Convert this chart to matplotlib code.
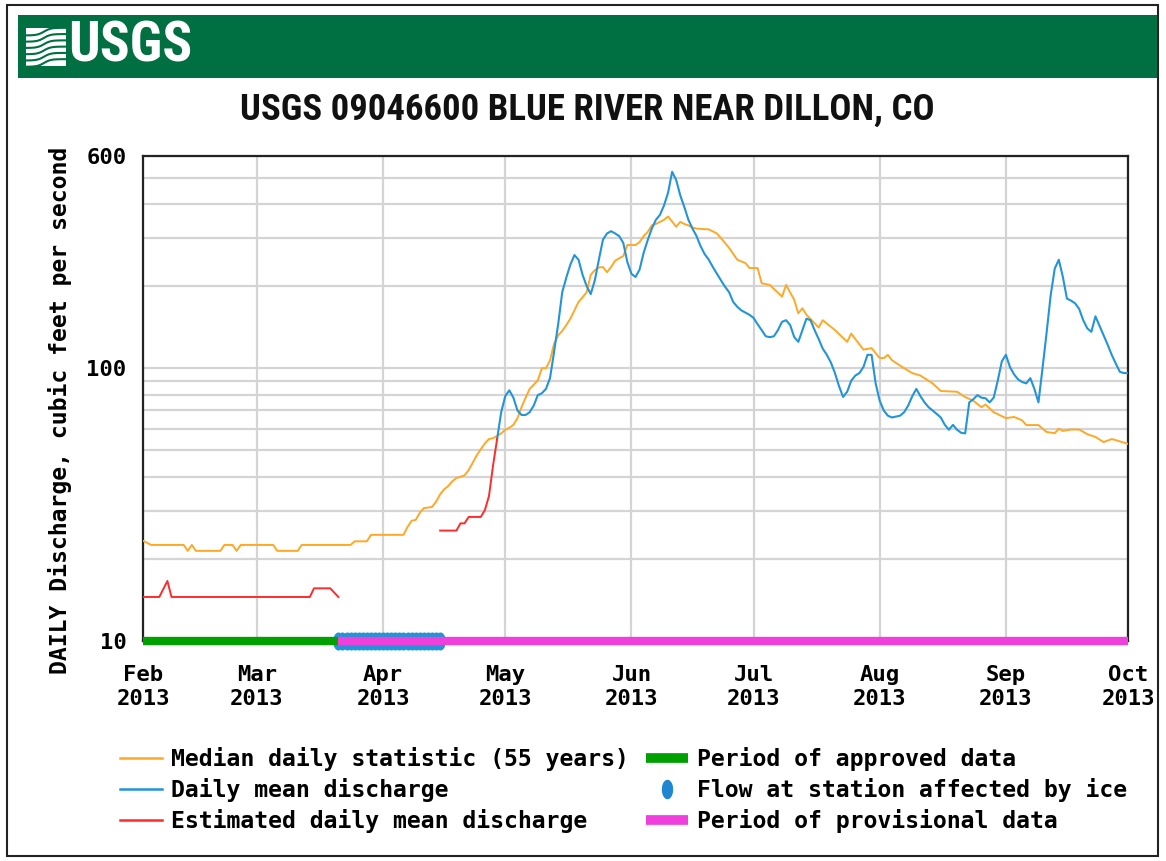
import matplotlib
matplotlib.use("Agg")
import matplotlib.pyplot as plt
from matplotlib.lines import Line2D
from matplotlib.patches import Rectangle
from matplotlib.path import Path
from matplotlib import font_manager
import numpy as np
import pandas as pd

# ---- data (cfs) ----
median_dates = [
    "2013-02-01", "2013-02-03", "2013-02-11", "2013-02-12", "2013-02-13", "2013-02-14",
    "2013-02-20", "2013-02-21", "2013-02-23", "2013-02-24", "2013-02-25", "2013-03-05",
    "2013-03-06", "2013-03-11", "2013-03-12", "2013-03-24", "2013-03-25", "2013-03-28",
    "2013-03-29", "2013-04-06", "2013-04-07", "2013-04-08", "2013-04-09", "2013-04-10",
    "2013-04-11", "2013-04-13", "2013-04-14", "2013-04-15", "2013-04-16", "2013-04-17",
    "2013-04-18", "2013-04-19", "2013-04-20", "2013-04-21", "2013-04-22", "2013-04-23",
    "2013-04-24", "2013-04-25", "2013-04-26", "2013-04-27", "2013-04-28", "2013-04-29",
    "2013-04-30", "2013-05-01", "2013-05-02", "2013-05-03", "2013-05-04", "2013-05-05",
    "2013-05-06", "2013-05-07", "2013-05-08", "2013-05-09", "2013-05-10", "2013-05-11",
    "2013-05-12", "2013-05-13", "2013-05-14", "2013-05-15", "2013-05-16", "2013-05-17",
    "2013-05-18", "2013-05-19", "2013-05-20", "2013-05-21", "2013-05-22", "2013-05-23",
    "2013-05-24", "2013-05-25", "2013-05-26", "2013-05-27", "2013-05-28", "2013-05-29",
    "2013-05-30", "2013-05-31", "2013-06-02", "2013-06-03", "2013-06-04", "2013-06-05",
    "2013-06-06", "2013-06-07", "2013-06-08", "2013-06-09", "2013-06-10", "2013-06-11",
    "2013-06-12", "2013-06-13", "2013-06-14", "2013-06-15", "2013-06-16", "2013-06-17",
    "2013-06-20", "2013-06-22", "2013-06-24", "2013-06-25", "2013-06-27", "2013-06-29",
    "2013-06-30", "2013-07-02", "2013-07-03", "2013-07-05", "2013-07-08", "2013-07-09",
    "2013-07-11", "2013-07-12", "2013-07-13", "2013-07-14", "2013-07-17", "2013-07-18",
    "2013-07-21", "2013-07-24", "2013-07-25", "2013-07-28", "2013-07-30", "2013-08-01",
    "2013-08-02", "2013-08-03", "2013-08-04", "2013-08-07", "2013-08-09", "2013-08-11",
    "2013-08-14", "2013-08-16", "2013-08-20", "2013-08-22", "2013-08-24", "2013-08-26",
    "2013-08-27", "2013-08-29", "2013-09-01", "2013-09-03", "2013-09-05", "2013-09-06",
    "2013-09-09", "2013-09-11", "2013-09-13", "2013-09-14", "2013-09-15", "2013-09-17",
    "2013-09-19", "2013-09-21", "2013-09-23", "2013-09-25", "2013-09-27", "2013-09-28",
    "2013-10-01",
]
median_cfs = [
    23.3, 22.5, 22.5, 21.4, 22.5, 21.4,
    21.4, 22.5, 22.5, 21.4, 22.5, 22.5,
    21.4, 21.4, 22.5, 22.5, 23.2, 23.2,
    24.5, 24.5, 26.2, 27.6, 27.8, 29.5,
    30.7, 31.0, 32.4, 34.5, 36.0, 37.0,
    38.5, 39.6, 40.0, 40.5, 42.3, 45.0,
    48.0, 50.5, 53.0, 55.0, 55.4, 56.5,
    57.7, 59.5, 60.5, 62.0, 65.6, 72.0,
    78.0, 84.0, 87.0, 90.4, 100, 100,
    107, 123, 132, 137, 144, 152,
    163, 175, 182, 190, 220, 229,
    234, 235, 225, 235, 248, 253,
    258, 283, 283, 290, 305, 316,
    334, 338, 344, 350, 360, 345,
    330, 344, 338, 334, 328, 325,
    323, 312, 288, 276, 250, 243,
    233, 233, 205, 202, 183, 202,
    178, 159, 166, 157, 141, 150,
    138, 125, 134, 117, 118.5, 109,
    109, 112, 107, 100, 96, 94,
    88, 82.5, 82, 78.4, 76, 72,
    73.6, 69, 65.6, 66.3, 64.4, 61.9,
    61.9, 58.4, 57.8, 60, 58.9, 59.6,
    59.6, 57.3, 56, 53.6, 55, 54.5,
    52.8,
]

mean_dates = [
    "2013-04-29", "2013-04-30", "2013-05-01", "2013-05-02", "2013-05-03", "2013-05-04",
    "2013-05-05", "2013-05-06", "2013-05-07", "2013-05-08", "2013-05-09", "2013-05-10",
    "2013-05-11", "2013-05-12", "2013-05-13", "2013-05-14", "2013-05-15", "2013-05-16",
    "2013-05-17", "2013-05-18", "2013-05-19", "2013-05-20", "2013-05-21", "2013-05-22",
    "2013-05-23", "2013-05-24", "2013-05-25", "2013-05-26", "2013-05-27", "2013-05-28",
    "2013-05-29", "2013-05-30", "2013-05-31", "2013-06-01", "2013-06-02", "2013-06-03",
    "2013-06-04", "2013-06-05", "2013-06-06", "2013-06-07", "2013-06-08", "2013-06-09",
    "2013-06-10", "2013-06-11", "2013-06-12", "2013-06-13", "2013-06-14", "2013-06-15",
    "2013-06-16", "2013-06-17", "2013-06-18", "2013-06-19", "2013-06-20", "2013-06-21",
    "2013-06-22", "2013-06-23", "2013-06-24", "2013-06-25", "2013-06-26", "2013-06-27",
    "2013-06-28", "2013-06-29", "2013-06-30", "2013-07-01", "2013-07-02", "2013-07-03",
    "2013-07-04", "2013-07-05", "2013-07-06", "2013-07-07", "2013-07-08", "2013-07-09",
    "2013-07-10", "2013-07-11", "2013-07-12", "2013-07-13", "2013-07-14", "2013-07-15",
    "2013-07-16", "2013-07-17", "2013-07-18", "2013-07-19", "2013-07-20", "2013-07-21",
    "2013-07-22", "2013-07-23", "2013-07-24", "2013-07-25", "2013-07-26", "2013-07-27",
    "2013-07-28", "2013-07-29", "2013-07-30", "2013-07-31", "2013-08-01", "2013-08-02",
    "2013-08-03", "2013-08-04", "2013-08-05", "2013-08-06", "2013-08-07", "2013-08-08",
    "2013-08-09", "2013-08-10", "2013-08-11", "2013-08-12", "2013-08-13", "2013-08-14",
    "2013-08-15", "2013-08-16", "2013-08-17", "2013-08-18", "2013-08-19", "2013-08-20",
    "2013-08-21", "2013-08-22", "2013-08-23", "2013-08-24", "2013-08-25", "2013-08-26",
    "2013-08-27", "2013-08-28", "2013-08-29", "2013-08-30", "2013-08-31", "2013-09-01",
    "2013-09-02", "2013-09-03", "2013-09-04", "2013-09-05", "2013-09-06", "2013-09-07",
    "2013-09-08", "2013-09-09", "2013-09-10", "2013-09-11", "2013-09-12", "2013-09-13",
    "2013-09-14", "2013-09-15", "2013-09-16", "2013-09-17", "2013-09-18", "2013-09-19",
    "2013-09-20", "2013-09-21", "2013-09-22", "2013-09-23", "2013-09-24", "2013-09-25",
    "2013-09-26", "2013-09-27", "2013-09-28", "2013-09-29", "2013-09-30", "2013-10-01",
]
mean_cfs = [
    55, 69, 79, 83, 78, 70,
    67.4, 67.4, 69, 73, 79.7, 81,
    84, 92, 115, 145, 190, 215,
    240, 260, 250, 220, 200, 187,
    210, 250, 296, 312, 318, 312,
    305, 288, 245, 222, 216, 230,
    265, 295, 325, 350, 365, 395,
    440, 525, 490, 430, 390, 350,
    325, 305, 280, 262, 250, 235,
    222, 210, 199, 190, 175, 168,
    163, 160, 157, 153, 145, 138,
    131, 130, 131, 138, 148, 150,
    144, 130, 125, 138, 152, 150,
    138, 128, 118, 112, 105, 96,
    86, 78.5, 82, 90, 94, 96,
    101, 112, 112, 88, 76, 70,
    67, 66, 66.5, 67, 69, 73,
    79, 84, 79, 75, 72, 70,
    68, 66, 62, 59.5, 62, 59.5,
    58, 57.7, 75, 77, 79.7, 78,
    77.6, 75, 78, 90, 106, 112,
    101, 95, 91, 89, 88, 92,
    84, 75, 100, 135, 185, 232,
    250, 216, 180, 177, 173, 165,
    150, 140, 136, 155, 143, 132,
    122, 112, 104, 97, 96, 96,
]

est1_dates = ["2013-02-01", "2013-02-05", "2013-02-07", "2013-02-08", "2013-03-14",
              "2013-03-15", "2013-03-19", "2013-03-21"]
est1_cfs = [14.5, 14.5, 16.6, 14.5, 14.5, 15.6, 15.6, 14.5]

est2_dates = ["2013-04-15", "2013-04-19", "2013-04-20", "2013-04-21", "2013-04-22",
              "2013-04-25", "2013-04-26", "2013-04-27", "2013-04-28", "2013-04-29"]
est2_cfs = [25.4, 25.4, 27, 27, 28.5, 28.5, 30.2, 34, 44, 55]

approved_period = ["2013-02-01", "2013-03-21"]
provisional_period = ["2013-03-21", "2013-10-01"]
ice_period = ["2013-03-21", "2013-04-15"]

month_ticks = ["2013-02-01", "2013-03-01", "2013-04-01", "2013-05-01", "2013-06-01",
               "2013-07-01", "2013-08-01", "2013-09-01", "2013-10-01"]
month_labels = ["Feb\n2013", "Mar\n2013", "Apr\n2013", "May\n2013", "Jun\n2013",
                "Jul\n2013", "Aug\n2013", "Sep\n2013", "Oct\n2013"]
y_major = [10, 100, 600]
y_minor = [20, 30, 40, 50, 60, 70, 80, 90, 200, 300, 400, 500]

title = "USGS 09046600 BLUE RIVER NEAR DILLON, CO"
ylabel = "DAILY Discharge, cubic feet per second"

ORANGE = "#ffa826"
BLUE = "#2394d8"
RED = "#ff2b2b"
GREEN = "#00a000"
MAGENTA = "#f040dc"
USGS_GREEN = "#006f41"

names = {f.name for f in font_manager.fontManager.ttflist}
narrow = [f for f in ["Roboto Condensed", "Archivo Narrow", "PT Sans Narrow",
                      "IBM Plex Sans Condensed", "Open Sans Condensed"] if f in names]
narrow = (narrow[:1] or ["Liberation Sans"]) + ["DejaVu Sans"]
mono = dict(family="DejaVu Sans Mono", weight="bold")

W, H = 1166, 861
def fx(px):
    return px / W
def fy(py):
    return 1 - py / H

fig = plt.figure(figsize=(W / 100, H / 100), dpi=100)

# page border and banner
fig.patches.append(Rectangle((fx(7), fy(856)), fx(1158) - fx(7), fy(5) - fy(856),
                             transform=fig.transFigure, fill=False, ec="#222", lw=1.5))
fig.patches.append(Rectangle((fx(18), fy(78)), fx(1157) - fx(18), fy(15) - fy(78),
                             transform=fig.transFigure, fc=USGS_GREEN, ec="none"))
fig.text(fx(68), fy(46), "USGS", color="white", fontsize=40, weight="bold",
         family=narrow, ha="left", va="center")

# little wave symbol of the logo
logo = fig.add_axes([fx(26), fy(66), fx(66) - fx(26), (66 - 28) / H], zorder=5)
logo.set_axis_off()
logo.set_xlim(0, 1)
logo.set_ylim(0, 1)
logo.add_patch(Rectangle((0, 0), 1, 1, fc="white", ec="none"))
s = np.linspace(0, 1, 60)
for k in range(6):
    base = 0.08 + k * 0.165
    logo.plot(s, base + 0.1 * np.tanh((s - 0.45) * 6), color=USGS_GREEN, lw=1.5)

fig.text(fx(587), fy(110), title, fontsize=26.5, family=narrow, weight="bold",
         ha="center", va="center", color="#111")

ax = fig.add_axes([fx(143), fy(641), fx(1128) - fx(143), (641 - 156) / H])

to_dt = pd.to_datetime
ax.plot(to_dt(median_dates), median_cfs, color=ORANGE, lw=1.4, zorder=3,
        label="Median daily statistic (55 years)")
ax.plot(to_dt(mean_dates), mean_cfs, color=BLUE, lw=1.5, zorder=4,
        label="Daily mean discharge")
ax.plot(to_dt(est1_dates), est1_cfs, color=RED, lw=1.4, zorder=4,
        label="Estimated daily mean discharge")
ax.plot(to_dt(est2_dates), est2_cfs, color=RED, lw=1.4, zorder=4)

ice_days = pd.date_range(ice_period[0], ice_period[1], freq="D")
t = np.linspace(0, 2 * np.pi, 40)
ice_marker = Path(np.column_stack([0.55 * np.cos(t), np.sin(t)]), closed=True)
ax.plot(ice_days, [10] * len(ice_days), ls="none", marker=ice_marker, ms=12,
        color=BLUE, mec=BLUE, clip_on=False, zorder=6)
ax.plot(to_dt(approved_period), [10, 10], color=GREEN, lw=6, solid_capstyle="butt",
        clip_on=False, zorder=7)
ax.plot(to_dt(provisional_period), [10, 10], color=MAGENTA, lw=6, solid_capstyle="butt",
        clip_on=False, zorder=7)

ax.set_yscale("log")
ax.set_ylim(10, 600)
ax.set_xlim(to_dt(month_ticks[0]), to_dt(month_ticks[-1]))
ax.set_yticks(y_major)
ax.set_yticklabels([str(v) for v in y_major])
ax.set_yticks(y_minor, minor=True)
ax.yaxis.set_minor_formatter(matplotlib.ticker.NullFormatter())
ax.set_xticks(to_dt(month_ticks))
ax.set_xticklabels(month_labels, linespacing=1.28)
ax.tick_params(axis="both", which="both", length=0)
ax.tick_params(axis="x", pad=17)
ax.tick_params(axis="y", pad=12)
for lab in ax.get_xticklabels() + ax.get_yticklabels():
    lab.set_fontfamily(mono["family"])
    lab.set_fontweight("bold")
    lab.set_fontsize(16)
ax.grid(True, which="both", color="#d4d4d4", lw=1.6, zorder=0)
ax.set_axisbelow(True)
for sp in ax.spines.values():
    sp.set_linewidth(1.6)
    sp.set_color("#222")

fig.text(fx(60), fy(410), ylabel, rotation=90, ha="center", va="center",
         fontsize=16.7, **mono)

# legend, two columns like the USGS page
h_med, h_mean, h_est = ax.get_lines()[:3]
handles = [
    Line2D([], [], color=ORANGE, lw=1.8),
    Line2D([], [], color=BLUE, lw=1.8),
    Line2D([], [], color=RED, lw=1.8),
    Line2D([], [], color=GREEN, lw=7, solid_capstyle="butt"),
    Line2D([], [], ls="none", marker=ice_marker, ms=13, color="#1f86d0"),
    Line2D([], [], color=MAGENTA, lw=7, solid_capstyle="butt"),
]
labels = [h_med.get_label(), h_mean.get_label(), h_est.get_label(),
          "Period of approved data", "Flow at station affected by ice",
          "Period of provisional data"]
fig.legend(handles, labels, ncol=2, loc="upper left",
           bbox_to_anchor=(fx(120), fy(747)), frameon=False,
           prop=dict(size=16.7, **mono), handlelength=1.8, handletextpad=0.4,
           columnspacing=0.75, labelspacing=0.3, borderpad=0, borderaxespad=0)

fig.savefig("out.png", dpi=100)
